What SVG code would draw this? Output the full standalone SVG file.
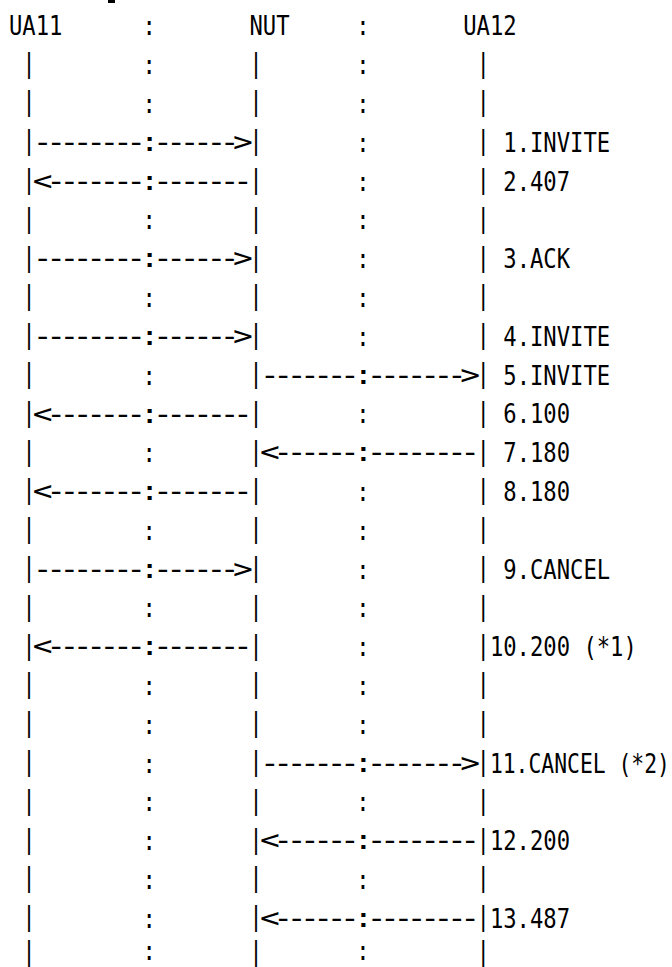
<svg xmlns="http://www.w3.org/2000/svg" width="672" height="967" viewBox="0 0 672 967">
<style>
text { font-family: "DejaVu Sans Mono", "Liberation Mono", monospace; font-size: 27px; fill: #000; }
.life { font-family: "DejaVu Sans", "Liberation Sans", sans-serif; text-anchor: middle; }
#connectors text { font-size: 40px; letter-spacing: -7.83px; }
</style>
<rect width="672" height="967" fill="#fff"/>
<rect x="108" y="0" width="7" height="3" fill="#000"/>
<g transform="scale(0.8219,1)">
  <g id="UA11">
    <text x="10.90" y="35.5">UA11</text>
    <text class="life"><tspan x="35.28" y="71.6">|</tspan><tspan x="35.28" y="110.4">|</tspan><tspan x="35.28" y="149.2">|</tspan><tspan x="35.28" y="188.0">|</tspan><tspan x="35.28" y="226.8">|</tspan><tspan x="35.28" y="265.6">|</tspan><tspan x="35.28" y="304.4">|</tspan><tspan x="35.28" y="343.2">|</tspan><tspan x="35.28" y="382.0">|</tspan><tspan x="35.28" y="420.8">|</tspan><tspan x="35.28" y="459.6">|</tspan><tspan x="35.28" y="498.4">|</tspan><tspan x="35.28" y="537.2">|</tspan><tspan x="35.28" y="576.0">|</tspan><tspan x="35.28" y="614.8">|</tspan><tspan x="35.28" y="653.6">|</tspan><tspan x="35.28" y="692.4">|</tspan><tspan x="35.28" y="731.2">|</tspan><tspan x="35.28" y="770.0">|</tspan><tspan x="35.28" y="808.8">|</tspan><tspan x="35.28" y="847.6">|</tspan><tspan x="35.28" y="886.4">|</tspan><tspan x="35.28" y="925.2">|</tspan><tspan x="35.28" y="960.5">|</tspan></text>
  </g>
  <g id="NUT">
    <text x="303.49" y="35.5">NUT</text>
    <text class="life"><tspan x="311.62" y="71.6">|</tspan><tspan x="311.62" y="110.4">|</tspan><tspan x="311.62" y="149.2">|</tspan><tspan x="311.62" y="188.0">|</tspan><tspan x="311.62" y="226.8">|</tspan><tspan x="311.62" y="265.6">|</tspan><tspan x="311.62" y="304.4">|</tspan><tspan x="311.62" y="343.2">|</tspan><tspan x="311.62" y="382.0">|</tspan><tspan x="311.62" y="420.8">|</tspan><tspan x="311.62" y="459.6">|</tspan><tspan x="311.62" y="498.4">|</tspan><tspan x="311.62" y="537.2">|</tspan><tspan x="311.62" y="576.0">|</tspan><tspan x="311.62" y="614.8">|</tspan><tspan x="311.62" y="653.6">|</tspan><tspan x="311.62" y="692.4">|</tspan><tspan x="311.62" y="731.2">|</tspan><tspan x="311.62" y="770.0">|</tspan><tspan x="311.62" y="808.8">|</tspan><tspan x="311.62" y="847.6">|</tspan><tspan x="311.62" y="886.4">|</tspan><tspan x="311.62" y="925.2">|</tspan><tspan x="311.62" y="960.5">|</tspan></text>
  </g>
  <g id="UA12">
    <text x="563.57" y="35.5">UA12</text>
    <text class="life"><tspan x="587.96" y="71.6">|</tspan><tspan x="587.96" y="110.4">|</tspan><tspan x="587.96" y="149.2">|</tspan><tspan x="587.96" y="188.0">|</tspan><tspan x="587.96" y="226.8">|</tspan><tspan x="587.96" y="265.6">|</tspan><tspan x="587.96" y="304.4">|</tspan><tspan x="587.96" y="343.2">|</tspan><tspan x="587.96" y="382.0">|</tspan><tspan x="587.96" y="420.8">|</tspan><tspan x="587.96" y="459.6">|</tspan><tspan x="587.96" y="498.4">|</tspan><tspan x="587.96" y="537.2">|</tspan><tspan x="587.96" y="576.0">|</tspan><tspan x="587.96" y="614.8">|</tspan><tspan x="587.96" y="653.6">|</tspan><tspan x="587.96" y="692.4">|</tspan><tspan x="587.96" y="731.2">|</tspan><tspan x="587.96" y="770.0">|</tspan><tspan x="587.96" y="808.8">|</tspan><tspan x="587.96" y="847.6">|</tspan><tspan x="587.96" y="886.4">|</tspan><tspan x="587.96" y="925.2">|</tspan><tspan x="587.96" y="960.5">|</tspan></text>
  </g>
  <g id="separators">
    <text><tspan x="173.45" y="35.5">:</tspan><tspan x="173.45" y="74.3">:</tspan><tspan x="173.45" y="113.1">:</tspan><tspan x="173.45" y="229.5">:</tspan><tspan x="173.45" y="307.1">:</tspan><tspan x="173.45" y="384.7">:</tspan><tspan x="173.45" y="462.3">:</tspan><tspan x="173.45" y="539.9">:</tspan><tspan x="173.45" y="617.5">:</tspan><tspan x="173.45" y="695.1">:</tspan><tspan x="173.45" y="733.9">:</tspan><tspan x="173.45" y="772.7">:</tspan><tspan x="173.45" y="811.5">:</tspan><tspan x="173.45" y="850.3">:</tspan><tspan x="173.45" y="889.1">:</tspan><tspan x="173.45" y="927.9">:</tspan><tspan x="173.45" y="960.5">:</tspan></text>
    <text><tspan x="433.53" y="35.5">:</tspan><tspan x="433.53" y="74.3">:</tspan><tspan x="433.53" y="113.1">:</tspan><tspan x="433.53" y="151.9">:</tspan><tspan x="433.53" y="190.7">:</tspan><tspan x="433.53" y="229.5">:</tspan><tspan x="433.53" y="268.3">:</tspan><tspan x="433.53" y="307.1">:</tspan><tspan x="433.53" y="345.9">:</tspan><tspan x="433.53" y="423.5">:</tspan><tspan x="433.53" y="501.1">:</tspan><tspan x="433.53" y="539.9">:</tspan><tspan x="433.53" y="578.7">:</tspan><tspan x="433.53" y="617.5">:</tspan><tspan x="433.53" y="656.3">:</tspan><tspan x="433.53" y="695.1">:</tspan><tspan x="433.53" y="733.9">:</tspan><tspan x="433.53" y="811.5">:</tspan><tspan x="433.53" y="889.1">:</tspan><tspan x="433.53" y="960.5">:</tspan></text>
  </g>
  <g id="connectors" transform="scale(1,0.675)">
    <text x="39.90" y="223.85">--------:------&gt;</text>
    <text x="39.90" y="281.33">&lt;-------:-------</text>
    <text x="39.90" y="396.30">--------:------&gt;</text>
    <text x="39.90" y="511.26">--------:------&gt;</text>
    <text x="316.25" y="568.74">-------:-------&gt;</text>
    <text x="39.90" y="626.22">&lt;-------:-------</text>
    <text x="316.25" y="683.70">&lt;------:--------</text>
    <text x="39.90" y="741.19">&lt;-------:-------</text>
    <text x="39.90" y="856.15">--------:------&gt;</text>
    <text x="39.90" y="971.11">&lt;-------:-------</text>
    <text x="316.25" y="1143.56">-------:-------&gt;</text>
    <text x="316.25" y="1258.52">&lt;------:--------</text>
    <text x="316.25" y="1373.48">&lt;------:--------</text>
  </g>
  <g id="labels">
    <text x="612.34" y="151.9">1.INVITE</text>
    <text x="612.34" y="190.7">2.407</text>
    <text x="612.34" y="268.3">3.ACK</text>
    <text x="612.34" y="345.9">4.INVITE</text>
    <text x="612.34" y="384.7">5.INVITE</text>
    <text x="612.34" y="423.5">6.100</text>
    <text x="612.34" y="462.3">7.180</text>
    <text x="612.34" y="501.1">8.180</text>
    <text x="612.34" y="578.7">9.CANCEL</text>
    <text x="596.08" y="656.3">10.200 (*1)</text>
    <text x="596.08" y="772.7" textLength="219" lengthAdjust="spacingAndGlyphs">11.CANCEL (*2)</text>
    <text x="596.08" y="850.3">12.200</text>
    <text x="596.08" y="927.9">13.487</text>
  </g>
</g>
</svg>
